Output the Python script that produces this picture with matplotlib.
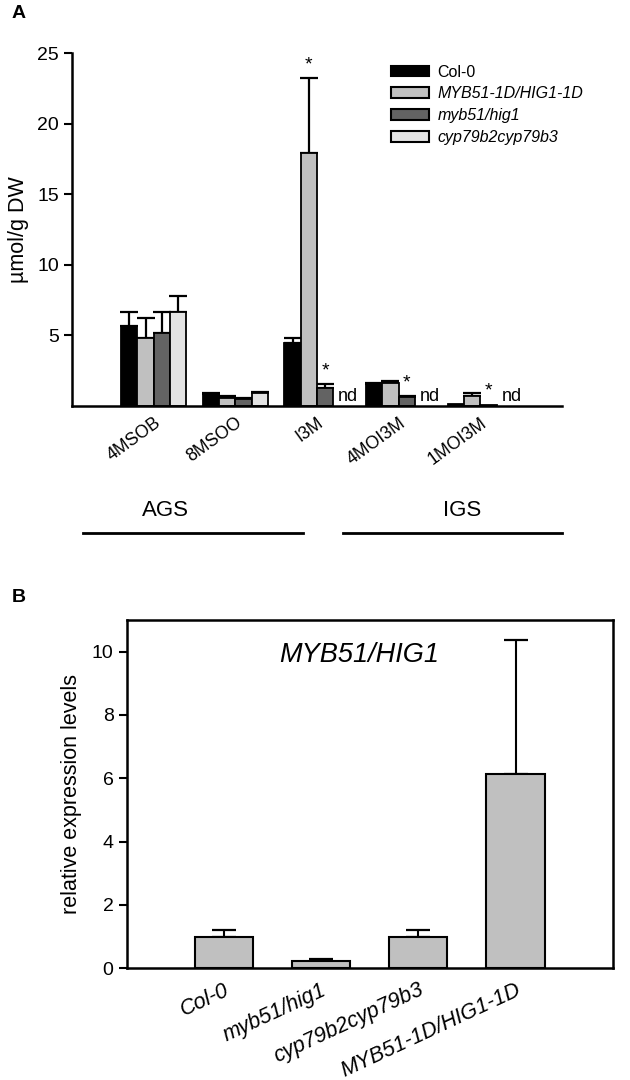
import numpy as np
import matplotlib
matplotlib.use("Agg")
import matplotlib.pyplot as plt
from matplotlib.patches import Patch
from matplotlib.lines import Line2D

plt.rcParams['font.family'] = ['Liberation Sans', 'DejaVu Sans']

# ---------------- Panel A data ----------------
compounds = ['4MSOB', '8MSOO', 'I3M', '4MOI3M', '1MOI3M']
genotypes_a = ['Col-0', 'MYB51-1D/HIG1-1D', 'myb51/hig1', 'cyp79b2cyp79b3']
col0 = [5.67, 0.85, 4.45, 1.55, 0.15]
col0_err = [1.0, 0.05, 0.4, 0.05, 0.0]
myb1d = [4.85, 0.6, 17.9, 1.65, 0.7]
myb1d_err = [1.35, 0.1, 5.3, 0.1, 0.2]
myb51 = [5.2, 0.5, 1.3, 0.66, 0.1]
myb51_err = [1.45, 0.05, 0.26, 0.05, 0.0]
cyp = [6.65, 0.95, np.nan, np.nan, np.nan]
cyp_err = [1.15, 0.05, np.nan, np.nan, np.nan]
stars_a = [(2, 1), (2, 2), (3, 2), (4, 2)]   # (compound index, genotype index)
nd_a = [(2, 3), (3, 3), (4, 3)]
colors_a = ['#000000', '#c0c0c0', '#636363', '#e3e3e3']
groups = ['AGS', 'IGS']

# ---------------- Panel B data ----------------
genotypes_b = ['Col-0', 'myb51/hig1', 'cyp79b2cyp79b3', 'MYB51-1D/HIG1-1D']
expr = [0.98, 0.24, 0.99, 6.13]
expr_err = [0.23, 0.05, 0.22, 4.23]
title_b = 'MYB51/HIG1'

fig = plt.figure(figsize=(6.3, 10.8), dpi=100)

# ---------------- Panel A ----------------
axA = fig.add_axes([72/630, 1-406/1080, 490/630, 353/1080])
series = [col0, myb1d, myb51, cyp]
errs = [col0_err, myb1d_err, myb51_err, cyp_err]
x = np.arange(len(compounds))
w = 0.2
for i, (vals, ev) in enumerate(zip(series, errs)):
    pos = x + (i - 1.5) * w
    vals = np.array(vals, float)
    ev = np.array(ev, float)
    axA.bar(pos, vals, width=w, color=colors_a[i], edgecolor='black',
            linewidth=1.3, zorder=2)
    ok = ~np.isnan(vals) & (ev > 0)
    axA.errorbar(pos[ok], vals[ok], yerr=[np.zeros(ok.sum()), ev[ok]],
                 fmt='none', ecolor='black', elinewidth=1.6, capsize=6.5,
                 capthick=1.6, zorder=1)
for (ci, gi) in stars_a:
    v = series[gi][ci]
    e = errs[gi][ci]
    top = v + (e if e == e else 0)
    axA.text(ci + (gi - 1.5) * w, top + 0.35, '*', ha='center', va='bottom',
             fontsize=14)
for (ci, gi) in nd_a:
    axA.text(ci + (gi - 1.5) * w + 0.08, 0.1, 'nd', ha='center', va='bottom',
             fontsize=13)

axA.set_xlim(-1, 5)
axA.set_ylim(0, 25)
axA.set_yticks([5, 10, 15, 20, 25])
axA.tick_params(axis='y', labelsize=14, length=6, width=1.5, direction='out')
axA.set_xticks(x)
axA.set_xticklabels(compounds, rotation=36, ha='right', rotation_mode='anchor',
                    fontsize=12.7)
axA.tick_params(axis='x', length=0, pad=6)
for s in ['top', 'right']:
    axA.spines[s].set_visible(False)
for s in ['left', 'bottom']:
    axA.spines[s].set_linewidth(1.8)
axA.spines['left'].set_bounds(0, 25)
axA.set_ylabel('µmol/g DW', fontsize=15.5, labelpad=6)

handles = [Patch(facecolor=c, edgecolor='black', linewidth=1.5) for c in colors_a]
leg = axA.legend(handles, genotypes_a, loc='upper left',
                 bbox_to_anchor=(0.638, 0.985), frameon=False, fontsize=11.5,
                 handlelength=2.4, handleheight=0.65, labelspacing=0.42,
                 handletextpad=0.5, borderaxespad=0)
for j, t in enumerate(leg.get_texts()):
    if j > 0:
        t.set_style('italic')

# AGS / IGS group annotations
fig.text(165/630, 1-510/1080, groups[0], ha='center', va='center', fontsize=16)
fig.text(462/630, 1-510/1080, groups[1], ha='center', va='center', fontsize=16)
fig.add_artist(Line2D([83/630, 303/630], [1-533/1080, 1-533/1080],
                      color='black', linewidth=2))
fig.add_artist(Line2D([343/630, 562/630], [1-533/1080, 1-533/1080],
                      color='black', linewidth=2))

fig.text(12/630, 1-14/1080, 'A', fontsize=14, fontweight='bold',
         ha='left', va='center')
fig.text(12/630, 1-597/1080, 'B', fontsize=14, fontweight='bold',
         ha='left', va='center')

# ---------------- Panel B ----------------
axB = fig.add_axes([126.7/630, 1-968.3/1080, 486/630, 348.3/1080])
xb = np.arange(len(genotypes_b))
axB.bar(xb, expr, width=0.6, color='#c0c0c0', edgecolor='black',
        linewidth=1.5, zorder=2)
axB.errorbar(xb, expr, yerr=[np.zeros(len(expr)), expr_err], fmt='none',
             ecolor='black', elinewidth=1.5, capsize=8.5, capthick=1.6, zorder=1)
axB.set_xlim(-1, 4)
axB.set_ylim(0, 11)
axB.set_yticks([0, 2, 4, 6, 8, 10])
axB.tick_params(axis='y', labelsize=14, length=6, width=1.5, direction='out')
axB.set_xticks(xb)
axB.set_xticklabels(genotypes_b, rotation=25, ha='right', rotation_mode='anchor',
                    fontsize=15.5, style='italic')
axB.tick_params(axis='x', length=0, pad=8)
for s in axB.spines.values():
    s.set_linewidth(1.8)
axB.set_ylabel('relative expression levels', fontsize=15.5, labelpad=7)
axB.text(0.479, 0.9, title_b, transform=axB.transAxes, ha='center', va='center',
         fontsize=19.5, style='italic')

fig.savefig('out.png', dpi=100)
